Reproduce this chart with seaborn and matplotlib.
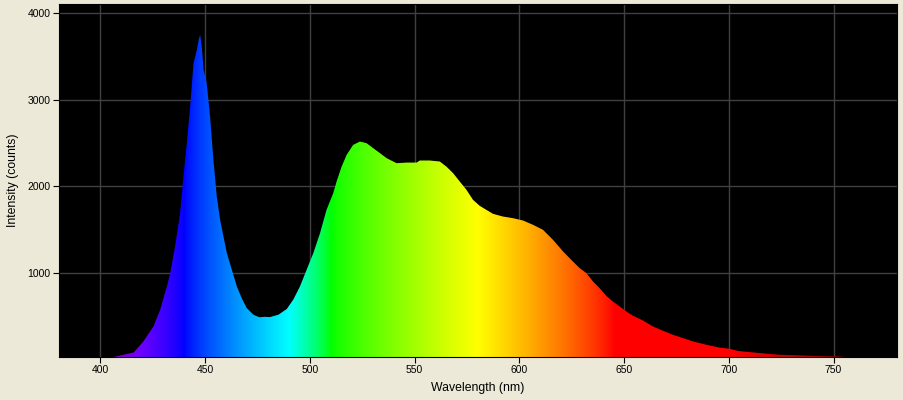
import numpy as np
import matplotlib
matplotlib.use("Agg")
import matplotlib.pyplot as plt
import seaborn as sns

# ---- data ----
wavelength_nm = [380, 400, 405, 409, 416, 420.6, 425.4, 428.6, 431.8, 433.4, 435.7, 438.1,
                 439.7, 441.3, 442.9, 444.5, 446.1, 447.0, 447.7, 448.5, 449.3, 450.8,
                 452.4, 454.0, 455.6, 457.2, 458.8, 460.4, 462.8, 465.2, 467.5, 469.9,
                 473.1, 475.9, 478.5, 481.0, 485.0, 489.0, 492.1, 495.3, 498.5, 501.7,
                 504.9, 508.0, 511.2, 512.8, 515.2, 517.6, 520.7, 523.9, 527.1, 530.3,
                 533.5, 536.7, 541.4, 546.2, 551.0, 552.5, 557.3, 562.1, 565.2, 568.4,
                 571.6, 574.8, 577.9, 581.1, 584.3, 587.5, 592.2, 597.0, 601.8, 606.6,
                 611.3, 616.1, 620.9, 625.6, 628.8, 632.0, 635.2, 638.3, 641.5, 644.7,
                 647.9, 651.1, 654.3, 659.0, 663.8, 668.6, 673.3, 678.1, 682.9, 689.2,
                 695.5, 700.3, 704.7, 714.6, 724.1, 733.7, 743.2, 752.7, 756, 780]
intensity_counts = [0, 5, 25, 45, 84, 211, 384, 577, 845, 1000, 1307, 1692,
                    2115, 2500, 2923, 3423, 3577, 3700, 3750, 3600, 3350, 3192,
                    2807, 2307, 1884, 1615, 1422, 1231, 1038, 845, 711, 596,
                    519, 490, 495, 492, 519, 585, 692, 845, 1038, 1231,
                    1461, 1730, 1923, 2057, 2230, 2365, 2480, 2519, 2500, 2442,
                    2385, 2327, 2269, 2276, 2276, 2300, 2300, 2288, 2230, 2154,
                    2057, 1961, 1846, 1777, 1730, 1684, 1653, 1634, 1607, 1557,
                    1500, 1384, 1250, 1134, 1058, 1000, 903, 827, 738, 672,
                    615, 557, 507, 453, 384, 334, 288, 250, 211, 173,
                    140, 126, 100, 77, 57, 50, 42, 38, 30, 0]
x_ticks = [400, 450, 500, 550, 600, 650, 700, 750]
y_ticks = [1000, 2000, 3000, 4000]
x_label = "Wavelength (nm)"
y_label = "Intensity (counts)"


def wavelength_rgb(w, gamma=0.8):
    w = np.asarray(w, dtype=float)
    r = np.zeros_like(w); g = np.zeros_like(w); b = np.zeros_like(w)
    m = (w >= 380) & (w < 440); r[m] = -(w[m] - 440) / 60; b[m] = 1
    m = (w >= 440) & (w < 490); g[m] = (w[m] - 440) / 50; b[m] = 1
    m = (w >= 490) & (w < 510); g[m] = 1; b[m] = -(w[m] - 510) / 20
    m = (w >= 510) & (w < 580); r[m] = (w[m] - 510) / 70; g[m] = 1
    m = (w >= 580) & (w < 645); r[m] = 1; g[m] = -(w[m] - 645) / 65
    m = (w >= 645); r[m] = 1
    f = np.ones_like(w)
    m = w < 420; f[m] = 0.3 + 0.7 * (w[m] - 380) / 40
    m = w > 700; f[m] = 0.3 + 0.7 * (780 - w[m]) / 80
    rgb = np.stack([r, g, b], axis=-1) * f[:, None]
    return np.clip(rgb, 0, 1) ** gamma


sns.set_style("dark")
bg = "#ECE9D8"
plt.rcParams.update({
    "figure.facecolor": bg,
    "axes.facecolor": "black",
    "axes.edgecolor": "black",
    "axes.linewidth": 0.8,
    "xtick.color": "black",
    "ytick.color": "black",
    "xtick.bottom": True,
    "ytick.left": True,
    "xtick.direction": "out",
    "ytick.direction": "out",
    "xtick.major.size": 4,
    "ytick.major.size": 4,
    "xtick.major.width": 0.8,
    "ytick.major.width": 0.8,
    "text.color": "black",
    "axes.labelcolor": "black",
})
plt.rcParams["font.family"] = ["Liberation Sans", "DejaVu Sans"]

fig = plt.figure(figsize=(9.04, 4.0), dpi=100)
ax = fig.add_axes([59 / 904, 1 - 357 / 400, (897 - 59) / 904, (357 - 4) / 400])
ax.set_facecolor("black")

xmin, xmax = 380.3, 780.3
ymin, ymax = 31, 4107

ax.set_axisbelow(True)
ax.grid(True, color="#404040", linewidth=1.0)

sns.lineplot(x=wavelength_nm, y=intensity_counts, ax=ax, linewidth=0, color="black")
poly = ax.fill_between(wavelength_nm, 0, intensity_counts, facecolor="none", edgecolor="none")

grad_w = np.linspace(380, 780, 1601)
img = wavelength_rgb(grad_w)[None, :, :]
im = ax.imshow(img, extent=[380, 780, 0, 4200], aspect="auto", origin="lower",
               interpolation="bilinear", zorder=2)
im.set_clip_path(poly.get_paths()[0], ax.transData)

ax.set_xlim(xmin, xmax)
ax.set_ylim(ymin, ymax)
ax.set_xticks(x_ticks)
ax.set_yticks(y_ticks)
ax.set_xticklabels([str(t) for t in x_ticks], fontsize=7.5)
ax.set_yticklabels([str(t) for t in y_ticks], fontsize=7.5)
ax.tick_params(axis="both", pad=2)
ax.set_xlabel(x_label, fontsize=8.8, labelpad=5)
ax.set_ylabel(y_label, fontsize=8.8, labelpad=6)
for s in ax.spines.values():
    s.set_color("black")

fig.savefig("out.png", dpi=100, facecolor=bg)
